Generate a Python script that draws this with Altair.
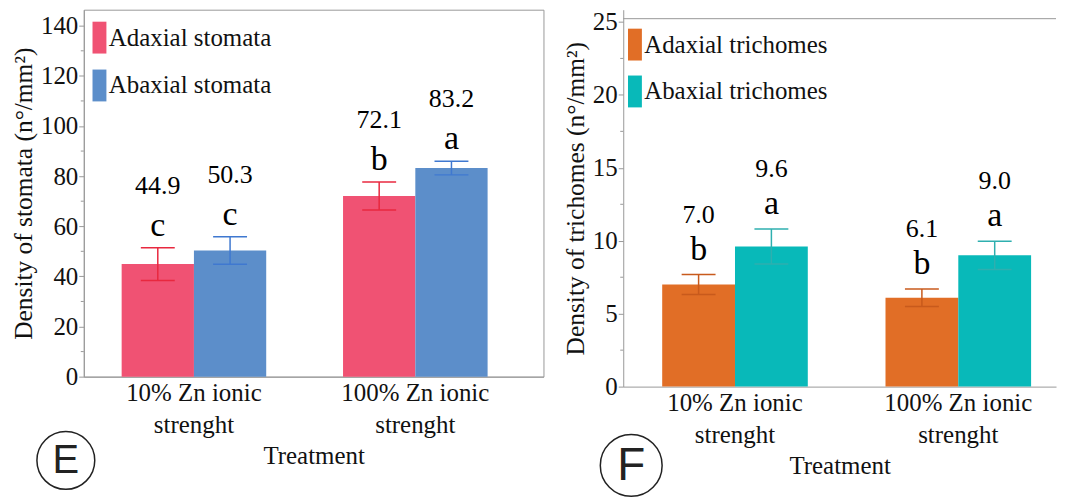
import altair as alt
import pandas as pd

# ---------------- data ----------------
treatments = ["10% Zn ionic|strenght", "100% Zn ionic|strenght"]

stomata_series = ["Adaxial stomata", "Abaxial stomata"]
stomata_adaxial = [44.9, 72.1]
stomata_adaxial_se = [6.5, 5.6]
stomata_abaxial = [50.3, 83.2]
stomata_abaxial_se = [5.5, 2.7]
stomata_adaxial_letters = ["c", "b"]
stomata_abaxial_letters = ["c", "a"]

trich_series = ["Adaxial trichomes", "Abaxial trichomes"]
trich_adaxial = [7.0, 6.1]
trich_adaxial_se = [0.68, 0.6]
trich_abaxial = [9.6, 9.0]
trich_abaxial_se = [1.2, 0.97]
trich_adaxial_letters = ["b", "b"]
trich_abaxial_letters = ["a", "a"]

stomata_ticks = [0, 20, 40, 60, 80, 100, 120, 140]
stomata_minor = [10, 30, 50, 70, 90, 110, 130]
trich_ticks = [0, 5, 10, 15, 20, 25]
trich_minor = [2.5, 7.5, 12.5, 17.5, 22.5]

FONT = "Liberation Serif, Times New Roman, Times, serif"
SWATCH = "M-0.5,-2.13L1.36,-2.13L1.36,2.13L-0.5,2.13Z"
CAP = "M-1,0L1,0"


def frame(series, a, a_se, a_let, b, b_se, b_let):
    rows = []
    for i, t in enumerate(treatments):
        rows.append(dict(treat=t, series=series[0], mean=a[i], se=a_se[i], letter=a_let[i]))
        rows.append(dict(treat=t, series=series[1], mean=b[i], se=b_se[i], letter=b_let[i]))
    df = pd.DataFrame(rows)
    df["lo"] = df["mean"] - df["se"]
    df["hi"] = df["mean"] + df["se"]
    return df


def panel(df, series, colors, errcolors, ymax, ticks, minor, ytitle, width, height,
          pin, pout, align, letter, circ_x, circ_y, circ_d, letter_size,
          let_dy, val_dy, leg_x, leg_y, leg_pad, top_line):
    xscale = alt.Scale(type="band", paddingInner=pin, paddingOuter=pout, align=align)
    xenc = alt.X("treat:N", sort=treatments, scale=xscale,
                 axis=alt.Axis(title="Treatment", labelAngle=0, ticks=False,
                               labelExpr="split(datum.label, '|')",
                               labelFontSize=25, labelLineHeight=32, labelPadding=4,
                               labelColor="#111", titleFontSize=25, titleFontWeight="normal",
                               titleColor="#111", titlePadding=6, domainColor="#999",
                               labelFont=FONT, titleFont=FONT))
    xplain = alt.X("treat:N", sort=treatments, scale=xscale)
    oscale = alt.Scale(type="band", paddingInner=0, paddingOuter=0)
    xoff = alt.XOffset("series:N", sort=series, scale=oscale)
    yscale = alt.Scale(domain=[0, ymax], nice=False, zero=True)
    yaxis = alt.Axis(title=ytitle, values=ticks, grid=False, tickSize=5, labelPadding=1,
                     labelFontSize=25, labelColor="#111", titleFontSize=25.5,
                     titleFontWeight="normal", titleColor="#111", titlePadding=4,
                     domainColor="#999", tickColor="#999", labelFont=FONT, titleFont=FONT)
    base = alt.Chart(df)
    bars = base.mark_bar(width=alt.RelativeBandSize(1.0)).encode(
        x=xenc, xOffset=xoff,
        y=alt.Y("mean:Q", scale=yscale, axis=yaxis),
        color=alt.Color("series:N", sort=series,
                        scale=alt.Scale(domain=series, range=colors),
                        legend=alt.Legend(title=None, orient="none", legendX=leg_x, legendY=leg_y,
                                          symbolType=SWATCH,
                                          symbolSize=225, symbolStrokeWidth=0,
                                          symbolOpacity=1, labelFontSize=25,
                                          labelFont=FONT, labelColor="#111", labelLimit=400,
                                          labelOffset=0, rowPadding=leg_pad, padding=0)),
    )
    errc = alt.Color("series:N", sort=series,
                     scale=alt.Scale(domain=series, range=errcolors), legend=None)
    err = base.mark_rule(strokeWidth=1.5).encode(
        x=xplain, xOffset=xoff, y=alt.Y("lo:Q"), y2="hi:Q", color=errc)
    cap_hi = base.mark_point(shape=CAP, size=34 * 34, strokeWidth=1.5, opacity=1,
                             filled=False).encode(
        x=xplain, xOffset=xoff, y="hi:Q", color=errc)
    cap_lo = base.mark_point(shape=CAP, size=34 * 34, strokeWidth=1.5, opacity=1,
                             filled=False).encode(
        x=xplain, xOffset=xoff, y="lo:Q", color=errc)
    lets = base.mark_text(fontSize=34, font=FONT, baseline="middle", dy=let_dy,
                          color="#000").encode(
        x=xplain, xOffset=xoff, y="hi:Q", text="letter:N")
    vals = base.mark_text(fontSize=26, font=FONT, baseline="middle", dy=val_dy,
                          color="#000").encode(
        x=xplain, xOffset=xoff, y="hi:Q",
        text=alt.Text("mean:Q", format=".1f"))
    mdf = pd.DataFrame({"v": minor})
    minor_ticks = alt.Chart(mdf).mark_rule(color="#999", strokeWidth=1).encode(
        y="v:Q", x=alt.value(-3), x2=alt.value(0))
    one = pd.DataFrame({"k": [letter]})
    circ = alt.Chart(one).mark_point(shape="circle", filled=False, size=circ_d ** 2,
                                     stroke="#222", strokeWidth=1.5, opacity=1).encode(
        x=alt.value(circ_x), y=alt.value(circ_y))
    ctext = alt.Chart(one).mark_text(font="Liberation Sans, Arial, sans-serif",
                                     fontSize=letter_size,
                                     baseline="middle", align="center", color="#222",
                                     dy=1).encode(
        x=alt.value(circ_x), y=alt.value(circ_y), text="k:N")
    layers = [bars, err, cap_hi, cap_lo, lets, vals, minor_ticks, circ, ctext]
    if top_line is not None:
        top = alt.Chart(one).mark_rule(color="#999", strokeWidth=1).encode(
            x=alt.value(0), x2=alt.value(width), y=alt.value(top_line))
        layers.append(top)
        view = alt.ViewBackground(strokeWidth=0)
    else:
        view = alt.ViewBackground(stroke="#999", strokeWidth=1)
    ch = alt.layer(*layers).resolve_scale(color="independent")
    return ch.properties(width=width, height=height, view=view)


df_e = frame(stomata_series, stomata_adaxial, stomata_adaxial_se, stomata_adaxial_letters,
             stomata_abaxial, stomata_abaxial_se, stomata_abaxial_letters)
df_f = frame(trich_series, trich_adaxial, trich_adaxial_se, trich_adaxial_letters,
             trich_abaxial, trich_abaxial_se, trich_abaxial_letters)

E = panel(df_e, stomata_series, ["#F05273", "#5C8ECA"], ["#E8283F", "#3F78D0"],
          146.4, stomata_ticks, stomata_minor, "Density of stomata (n°/mm²)",
          461, 368, 0.347, 0.2117, 0.404, "E", -18, 452, 58, 40, -22, -62,
          0, 15.5, 15, None)
F = panel(df_f, trich_series, ["#E16E26", "#08B9B9"], ["#C85A1C", "#2EAFAF"],
          25.84, trich_ticks, trich_minor, "Density of trichomes (n°/mm²)",
          434, 378, 0.348, 0.143, 0.61, "F", 8, 457, 62, 46, -25, -60,
          -4, 22.5, 14, 9)

chart = alt.hconcat(E, F, spacing=19, padding={"left": 3, "top": 0, "right": 0, "bottom": 0}).resolve_scale(
    x="independent", xOffset="independent", y="independent", color="independent"
).configure(font=FONT)

chart.save("out.html", embed_options={"renderer": "svg", "actions": False})
